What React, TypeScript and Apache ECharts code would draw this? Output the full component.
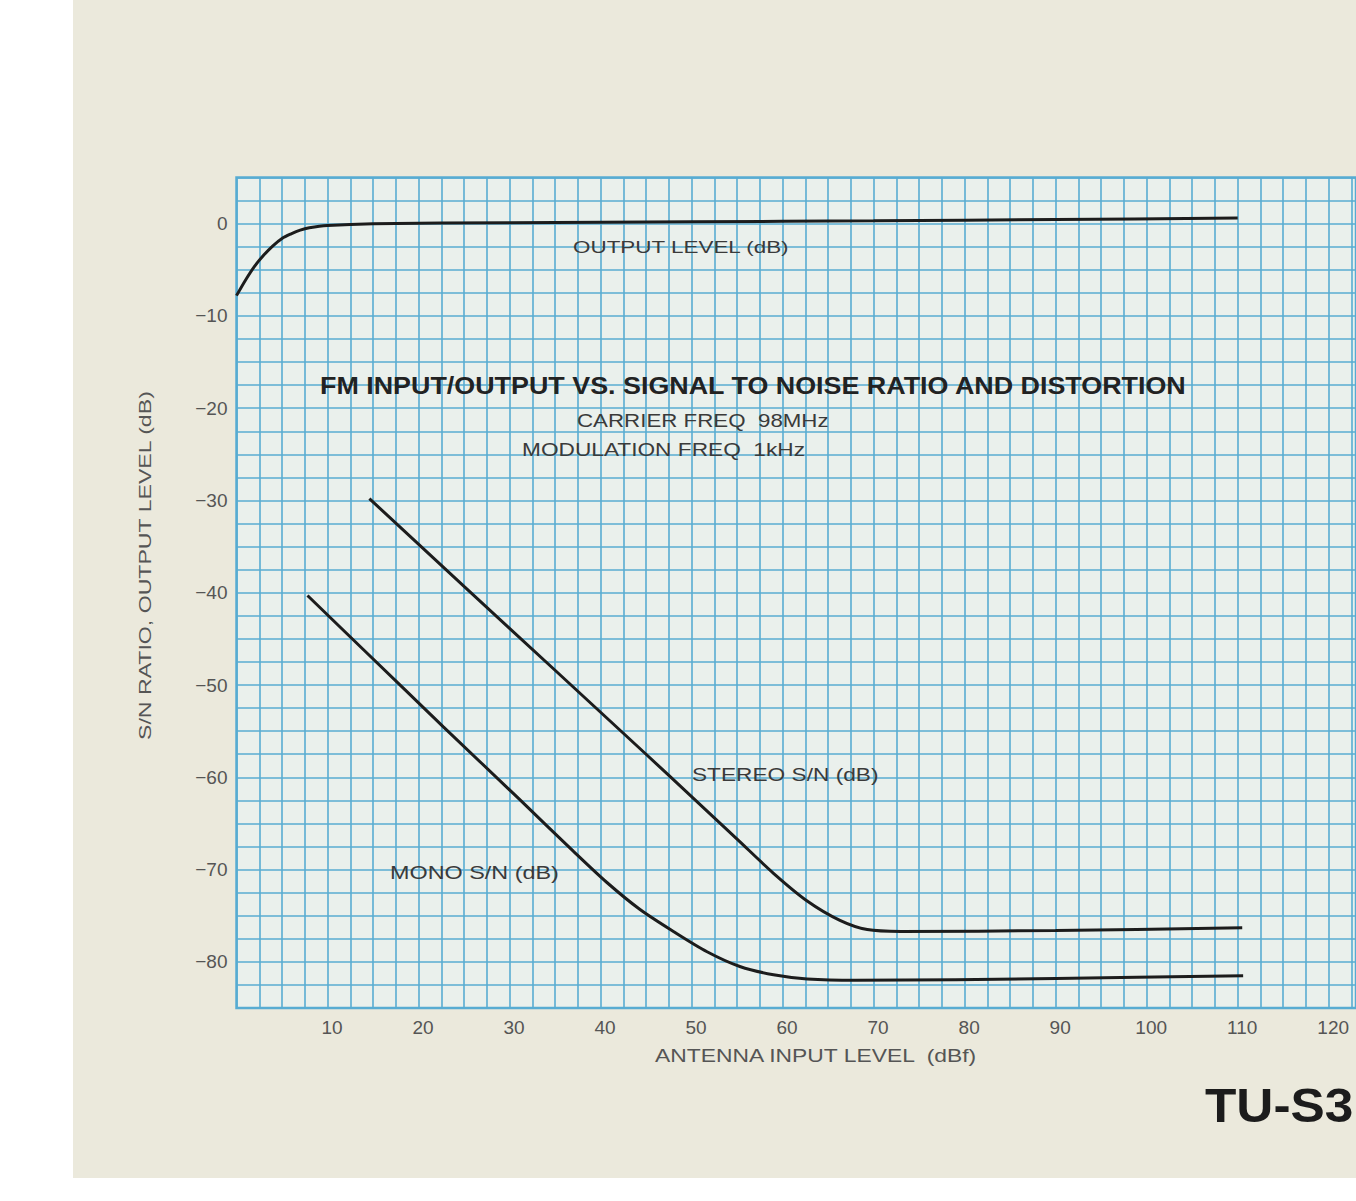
import React, { useEffect, useRef } from "react";
import * as echarts from "echarts";

// Antenna input level (dBf) vs level (dB)
const outputLevel: [number, number][] = [
  [0, -7.8], [1, -6.1], [2, -4.6], [3, -3.4], [4, -2.4], [5, -1.6], [6, -1.1],
  [7, -0.7], [8, -0.45], [10, -0.2], [15, 0], [30, 0.1], [50, 0.2], [70, 0.3],
  [90, 0.45], [110, 0.6],
];
const stereoSN: [number, number][] = [
  [14.6, -29.8], [25, -39.3], [35, -48.4], [45, -57.5], [50, -62.1], [55, -66.7],
  [59, -70.4], [62.7, -73.4], [66.3, -75.5], [69.3, -76.5], [73, -76.7], [90, -76.6],
  [110.5, -76.3],
];
const monoSN: [number, number][] = [
  [7.8, -40.3], [14.3, -46.5], [22.7, -54.5], [31.1, -62.4], [37, -68.0],
  [40.7, -71.4], [44.3, -74.3], [48, -76.7], [51.7, -78.9], [55.3, -80.5],
  [59, -81.4], [62.7, -81.85], [68, -82], [90, -81.8], [110.6, -81.5],
];
const xTickLabels = [10, 20, 30, 40, 50, 60, 70, 80, 90, 100, 110, 120];
const yTickLabels = [0, -10, -20, -30, -40, -50, -60, -70, -80];

const SANS = '"Liberation Sans", Arial, Helvetica, sans-serif';
const GRID_BLUE = "#58acd2";
const INK = "#1c1c1c";
const GREY = "#555555";
const LABEL = "#3a3a3a";

export default function App() {
  const ref = useRef<HTMLDivElement>(null);
  useEffect(() => {
    if (!ref.current) return;
    const chart = echarts.init(ref.current, null, { renderer: "svg" });
    const lineSeries = (name: string, data: [number, number][]) => ({
      name,
      type: "line",
      data,
      smooth: 0.3,
      showSymbol: false,
      lineStyle: { color: INK, width: 3 },
      z: 5,
    });
    const label = (
      text: string,
      x: number,
      y: number,
      size: number,
      sx: number,
      extra: Record<string, unknown> = {}
    ) => ({
      type: "text",
      x,
      y,
      scaleX: sx,
      z: 10,
      silent: true,
      style: {
        text,
        font: `${size}px ${SANS}`,
        fill: LABEL,
        textVerticalAlign: "middle",
        ...((extra.style as object) || {}),
      },
      ...Object.fromEntries(Object.entries(extra).filter(([k]) => k !== "style")),
    });
    chart.setOption({
      animation: false,
      backgroundColor: "#ffffff",
      grid: {
        left: 236.5,
        right: 0,
        top: 177.5,
        bottom: 193,
        show: true,
        backgroundColor: "#eaf0ec",
        borderColor: GRID_BLUE,
        borderWidth: 2.5,
      },
      xAxis: {
        type: "value",
        min: 0,
        max: 123,
        interval: 2.5,
        axisLine: { show: false },
        axisTick: { show: false },
        splitLine: { show: true, lineStyle: { color: GRID_BLUE, width: 1.6 } },
        axisLabel: {
          fontFamily: SANS,
          fontSize: 19,
          color: GREY,
          margin: 10,
          padding: [0, 0, 0, 9],
          showMaxLabel: false,
          formatter: (v: number) => (xTickLabels.includes(v) ? String(v) : ""),
        },
      },
      yAxis: {
        type: "value",
        min: -85,
        max: 5,
        interval: 2.5,
        axisLine: { show: false },
        axisTick: { show: false },
        splitLine: { show: true, lineStyle: { color: GRID_BLUE, width: 1.6 } },
        axisLabel: {
          fontFamily: SANS,
          fontSize: 19,
          color: GREY,
          margin: 9,
          padding: [6, 0, 0, 0],
          formatter: (v: number) =>
            yTickLabels.includes(v) ? (v < 0 ? "\u2212" + Math.abs(v) : String(v)) : "",
        },
      },
      graphic: [
        {
          type: "rect",
          z: -100,
          silent: true,
          shape: { x: 73, y: 0, width: 1283, height: 1178 },
          style: { fill: "#ebe9dc" },
        },
        {
          type: "text",
          x: 320,
          y: 386,
          scaleX: 1.12,
          z: 10,
          silent: true,
          style: {
            text: "FM INPUT/OUTPUT VS. SIGNAL TO NOISE RATIO AND DISTORTION",
            font: `bold 24px ${SANS}`,
            fill: "#222222",
            textVerticalAlign: "middle",
          },
        },
        label("OUTPUT LEVEL (dB)", 573, 247, 17, 1.32),
        label("CARRIER FREQ  98MHz", 577, 421, 18, 1.24),
        label("MODULATION FREQ  1kHz", 522, 449, 18, 1.26),
        label("STEREO S/N (dB)", 692, 774, 18, 1.26),
        label("MONO S/N (dB)", 390, 873, 18, 1.3),
        label("ANTENNA INPUT LEVEL  (dBf)", 655, 1055, 18, 1.27, { style: { fill: GREY } }),
        label("S/N RATIO, OUTPUT LEVEL (dB)", 145, 740, 17, 1.36, {
          rotation: Math.PI / 2,
          style: { fill: GREY },
        }),
        {
          type: "text",
          x: 1205,
          y: 1106,
          scaleX: 1.07,
          z: 10,
          silent: true,
          style: {
            text: "TU-S3",
            font: `bold 48px ${SANS}`,
            fill: INK,
            textVerticalAlign: "middle",
          },
        },
      ],
      series: [
        lineSeries("OUTPUT LEVEL (dB)", outputLevel),
        lineSeries("STEREO S/N (dB)", stereoSN),
        lineSeries("MONO S/N (dB)", monoSN),
      ],
    });
    return () => chart.dispose();
  }, []);
  return (
    <div
      ref={ref}
      style={{ position: "absolute", left: 0, top: 0, width: 1356, height: 1201 }}
    />
  );
}
